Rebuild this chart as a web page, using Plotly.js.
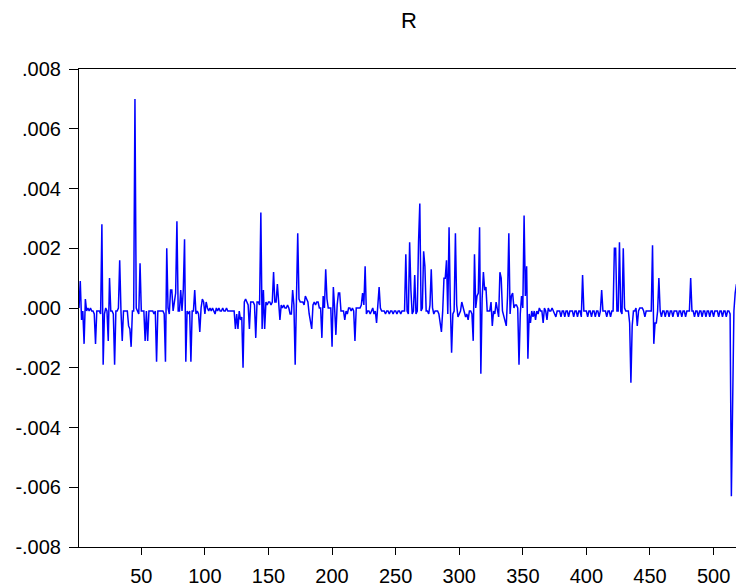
<!DOCTYPE html>
<html>
<head>
<meta charset="utf-8">
<script src="https://cdn.plot.ly/plotly-3.0.1.min.js"></script>
<style>
html,body{margin:0;padding:0;overflow:hidden;background:#fff;width:736px;height:587px;}
#chart{width:760px;height:587px;}
</style>
</head>
<body>
<div id="chart"></div>
<script>
// Series R, observations 1..520
const rValues = [
 0.0000, 0.0009,-0.0004,-0.0001,-0.0012, 0.0003,-0.0001, 0.0000,-0.0001, 0.0000,
-0.0001,-0.0001,-0.0002,-0.0012,-0.0001,-0.0001,-0.0001,-0.0002, 0.0028,-0.0019,
-0.0002, 0.0000,-0.0001,-0.0011, 0.0010,-0.0001,-0.0001,-0.0002,-0.0019,-0.0001,
-0.0001, 0.0000, 0.0016,-0.0001,-0.0011,-0.0001,-0.0001,-0.0001,-0.0001,-0.0006,
-0.0007,-0.0013,-0.0001,-0.0001, 0.0070, 0.0000,-0.0001,-0.0002, 0.0015,-0.0001,
-0.0001,-0.0001,-0.0011,-0.0001,-0.0011,-0.0001,-0.0001,-0.0001,-0.0001,-0.0002,
-0.0001,-0.0018,-0.0001,-0.0001,-0.0001,-0.0001,-0.0001,-0.0002,-0.0018, 0.0020,
 0.0000,-0.0002, 0.0006, 0.0006,-0.0001, 0.0002, 0.0005, 0.0029,-0.0001,-0.0001,
 0.0006,-0.0001, 0.0006, 0.0023,-0.0018,-0.0001,-0.0002,-0.0001,-0.0018,-0.0001,
-0.0001, 0.0006,-0.0002,-0.0001,-0.0002,-0.0008, 0.0000, 0.0003, 0.0002,-0.0002,
 0.0002, 0.0000,-0.0001, 0.0000,-0.0001, 0.0000,-0.0001,-0.0002, 0.0000,-0.0001,
 0.0000,-0.0001,-0.0001, 0.0000,-0.0001,-0.0001, 0.0000,-0.0001,-0.0001,-0.0001,
-0.0001,-0.0001,-0.0001,-0.0007,-0.0002,-0.0007,-0.0001,-0.0004,-0.0003,-0.0020,
 0.0002, 0.0003, 0.0002, 0.0001,-0.0007, 0.0002, 0.0002, 0.0002, 0.0001,-0.0010,
 0.0002, 0.0002, 0.0001, 0.0032,-0.0007, 0.0006,-0.0007, 0.0002, 0.0001, 0.0002,
 0.0002, 0.0001, 0.0002, 0.0012, 0.0002, 0.0002, 0.0008, 0.0001,-0.0004, 0.0001,
 0.0000, 0.0001, 0.0000, 0.0000, 0.0001, 0.0000,-0.0002,-0.0002, 0.0006, 0.0001,
-0.0019, 0.0003, 0.0025, 0.0003, 0.0002, 0.0002, 0.0002, 0.0001, 0.0004, 0.0003,
 0.0002,-0.0002,-0.0005,-0.0007, 0.0001, 0.0002, 0.0001, 0.0002, 0.0002, 0.0000,
 0.0000,-0.0010, 0.0004, 0.0000, 0.0013, 0.0003, 0.0000, 0.0000, 0.0000,-0.0013,
 0.0007, 0.0000,-0.0009, 0.0001, 0.0005, 0.0005,-0.0001,-0.0001,-0.0001,-0.0004,
-0.0001,-0.0002, 0.0000, 0.0000,-0.0001, 0.0000,-0.0001,-0.0011, 0.0000, 0.0000,
 0.0000, 0.0000, 0.0001, 0.0005, 0.0001, 0.0014,-0.0002,-0.0001,-0.0001,-0.0002,
-0.0001, 0.0000,-0.0002,-0.0001,-0.0005, 0.0001, 0.0007, 0.0000,-0.0001,-0.0001,
-0.0001,-0.0002,-0.0001,-0.0001,-0.0002,-0.0001,-0.0001,-0.0002,-0.0001,-0.0001,
-0.0002,-0.0001,-0.0001,-0.0002,-0.0001,-0.0001,-0.0001, 0.0018,-0.0001,-0.0002,
 0.0022, 0.0006,-0.0002,-0.0001, 0.0011,-0.0002,-0.0001, 0.0022, 0.0035,-0.0001,
 0.0000, 0.0019, 0.0014,-0.0001,-0.0001,-0.0002, 0.0001, 0.0013, 0.0000,-0.0002,
-0.0001,-0.0001,-0.0001,-0.0002,-0.0005,-0.0008,-0.0001, 0.0010, 0.0010, 0.0016,
-0.0002, 0.0027, 0.0001,-0.0015,-0.0002,-0.0001, 0.0025, 0.0001,-0.0003,-0.0002,
-0.0001, 0.0002, 0.0000,-0.0001,-0.0003,-0.0002,-0.0004,-0.0001,-0.0001,-0.0002,
-0.0011, 0.0018, 0.0000, 0.0004, 0.0005, 0.0027,-0.0022, 0.0003, 0.0012, 0.0006,
 0.0007,-0.0001,-0.0001,-0.0001, 0.0002,-0.0006,-0.0001,-0.0002, 0.0002,-0.0001,
-0.0003, 0.0012, 0.0010,-0.0001,-0.0003,-0.0005,-0.0006, 0.0004, 0.0025,-0.0002,
 0.0004, 0.0005, 0.0000, 0.0001, 0.0001, 0.0000,-0.0019,-0.0002, 0.0004, 0.0000,
 0.0031, 0.0004, 0.0014,-0.0017,-0.0002,-0.0005,-0.0001,-0.0003,-0.0001,-0.0004,
-0.0001,-0.0002, 0.0000,-0.0001,-0.0001,-0.0005, 0.0000,-0.0001,-0.0004, 0.0000,
-0.0001,-0.0001, 0.0000,-0.0001,-0.0002,-0.0003,-0.0001,-0.0001,-0.0001,-0.0003,
-0.0001,-0.0001,-0.0003,-0.0001,-0.0001,-0.0003,-0.0001,-0.0001,-0.0001,-0.0003,
-0.0001,-0.0001,-0.0003,-0.0001,-0.0001,-0.0003, 0.0011,-0.0001,-0.0001,-0.0001,
-0.0003,-0.0001,-0.0001,-0.0003,-0.0001,-0.0001,-0.0003,-0.0001,-0.0001,-0.0003,
-0.0001, 0.0006,-0.0001,-0.0001,-0.0001,-0.0003,-0.0001,-0.0001,-0.0003,-0.0001,
-0.0001, 0.0020, 0.0020,-0.0001,-0.0001, 0.0022,-0.0001,-0.0002, 0.0020, 0.0000,
-0.0001,-0.0001,-0.0001,-0.0005,-0.0025,-0.0006,-0.0001,-0.0001, 0.0000,-0.0006,
-0.0001, 0.0000, 0.0000, 0.0000,-0.0001,-0.0003,-0.0001,-0.0001,-0.0001,-0.0001,
-0.0001, 0.0021,-0.0012,-0.0005,-0.0005,-0.0001, 0.0010,-0.0001,-0.0003,-0.0001,
-0.0001,-0.0003,-0.0001,-0.0001,-0.0003,-0.0001,-0.0001,-0.0003,-0.0001,-0.0001,
-0.0001,-0.0003,-0.0001,-0.0001,-0.0003,-0.0001,-0.0001,-0.0003,-0.0001,-0.0001,
-0.0001, 0.0010,-0.0001,-0.0001,-0.0003,-0.0001,-0.0001,-0.0003,-0.0001,-0.0001,
-0.0003,-0.0001,-0.0001,-0.0003,-0.0001,-0.0001,-0.0003,-0.0001,-0.0001,-0.0003,
-0.0001,-0.0001,-0.0001,-0.0003,-0.0001,-0.0001,-0.0003,-0.0001,-0.0001,-0.0003,
-0.0001,-0.0001,-0.0002,-0.0063,-0.0030,-0.0001, 0.0005, 0.0008, 0.0003,-0.0001
];
const obsIndex = rValues.map((v, i) => i + 1);

const xTickVals = [50, 100, 150, 200, 250, 300, 350, 400, 450, 500];
const yTickVals = [0.008, 0.006, 0.004, 0.002, 0, -0.002, -0.004, -0.006, -0.008];
const yTickText = ['.008', '.006', '.004', '.002', '.000', '-.002', '-.004', '-.006', '-.008'];

const fontFam = '"Liberation Sans", Arial, sans-serif';

Plotly.newPlot('chart', [{
  type: 'scatter',
  mode: 'lines',
  x: obsIndex,
  y: rValues,
  line: {color: '#0000FF', width: 1.5},
  hoverinfo: 'skip'
}], {
  width: 760,
  height: 587,
  margin: {l: 79, r: 21, t: 69, b: 40},
  paper_bgcolor: '#ffffff',
  plot_bgcolor: '#ffffff',
  showlegend: false,
  font: {family: fontFam, color: '#000000', size: 20},
  title: {
    text: 'R',
    font: {family: fontFam, size: 22, color: '#000000'},
    x: 0.5, xref: 'paper',
    y: 1 - 20 / 587, yref: 'container', yanchor: 'middle'
  },
  xaxis: {
    range: [1, 520],
    tickmode: 'array',
    tickvals: xTickVals,
    ticks: 'outside',
    ticklen: 7,
    tickwidth: 1,
    tickcolor: '#000000',
    ticklabelstandoff: 4,
    showline: true,
    linecolor: '#000000',
    linewidth: 1,
    mirror: true,
    showgrid: false,
    zeroline: false,
    tickfont: {family: fontFam, size: 20, color: '#000000'}
  },
  yaxis: {
    range: [-0.008, 0.008],
    tickmode: 'array',
    tickvals: yTickVals,
    ticktext: yTickText,
    ticks: 'outside',
    ticklen: 9,
    tickwidth: 1,
    tickcolor: '#000000',
    ticklabelstandoff: 4,
    showline: true,
    linecolor: '#000000',
    linewidth: 1,
    mirror: true,
    showgrid: false,
    zeroline: false,
    tickfont: {family: fontFam, size: 20, color: '#000000'}
  }
}, {displayModeBar: false, staticPlot: true});
</script>
</body>
</html>
